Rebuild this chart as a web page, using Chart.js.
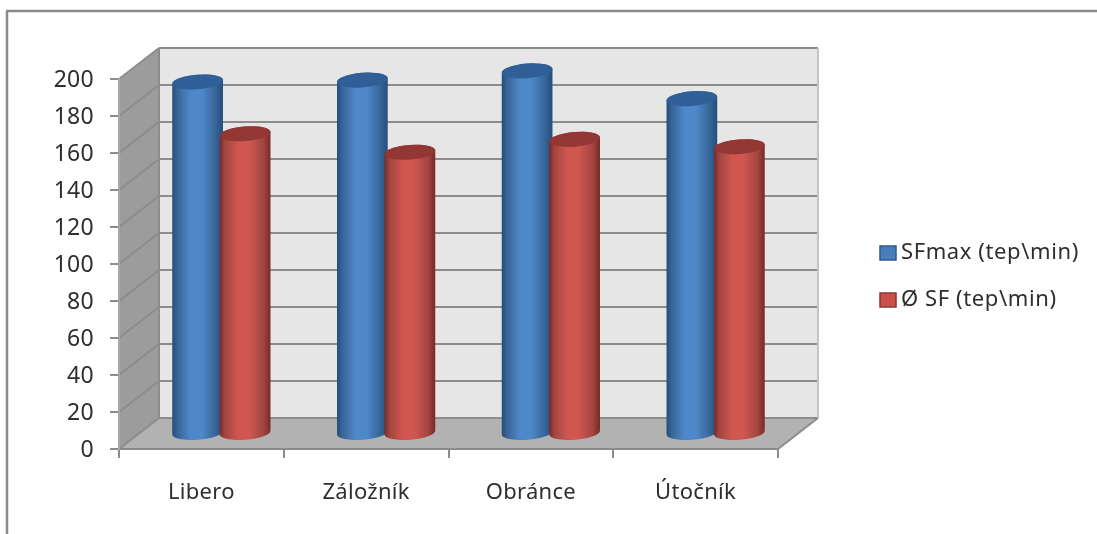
<!DOCTYPE html>
<html>
<head>
<meta charset="utf-8">
<title>SF</title>
<script src="https://cdn.jsdelivr.net/npm/chart.js@4"></script>
<style>
    html, body { margin: 0; padding: 0; background: #fff; }
    canvas { display: block; }
</style>
</head>
<body>
<canvas id="myChart" width="1097" height="534"></canvas>
<script>
"use strict";

// Data
const categories = ["Libero", "Záložník", "Obránce", "Útočník"];
const sfMax = [190, 191, 196, 181];
const sfAvg = [162, 152, 159, 155];
const seriesLabels = ["SFmax (tep\\min)", "Ø SF (tep\\min)"];
const yTicks = [0, 20, 40, 60, 80, 100, 120, 140, 160, 180, 200];

// Look of the 3D box and the cylinders
const DEPTH_X = 40;
const DEPTH_Y = -31;
const FONT = "'Noto Sans', sans-serif";
const TEXT = "#2e2e2e";
const LINE = "#8c8c8c";
const looks = [
    { edge: "#234c7a", side: "#376496", mid: "#4f88c9", top: "#2f5f96", swatch: "#4a7ebb", border: "#2c5a8e" },
    { edge: "#752a28", side: "#a24541", mid: "#cf5750", top: "#923733", swatch: "#c9504b", border: "#8e3431" },
];

function polygon(ctx, pts, fill) {
    ctx.beginPath();
    pts.forEach((p, i) => (i ? ctx.lineTo(p[0], p[1]) : ctx.moveTo(p[0], p[1])));
    ctx.closePath();
    ctx.fillStyle = fill;
    ctx.fill();
}

function line(ctx, x1, y1, x2, y2) {
    ctx.beginPath();
    ctx.moveTo(x1, y1);
    ctx.lineTo(x2, y2);
    ctx.stroke();
}

function drawBox(chart) {
    const { ctx, chartArea: a, scales } = chart;
    const l = a.left, r = a.right, t = a.top, b = a.bottom;
    const dx = DEPTH_X, dy = DEPTH_Y;

    ctx.save();

    // frame round the whole chart
    ctx.strokeStyle = "#8a8a8a";
    ctx.lineWidth = 2.5;
    line(ctx, 7, 534, 7, 11);
    line(ctx, 6, 11, 1097, 11);

    // walls and floor
    polygon(ctx, [[l + dx, t + dy], [r + dx, t + dy], [r + dx, b + dy], [l + dx, b + dy]], "#e6e6e6");
    polygon(ctx, [[l, t], [l + dx, t + dy], [l + dx, b + dy], [l, b]], "#9c9c9c");
    polygon(ctx, [[l, b], [l + dx, b + dy], [r + dx, b + dy], [r, b]], "#b2b2b2");

    // grid lines run along the side wall and the back wall
    ctx.strokeStyle = LINE;
    ctx.lineWidth = 2;
    yTicks.forEach((v) => {
        const y = scales.y.getPixelForValue(v);
        line(ctx, l, y, l + dx, y + dy);
        line(ctx, l + dx, y + dy, r + dx, y + dy);
    });
    line(ctx, l + dx, t + dy, l + dx, b + dy);
    ctx.strokeStyle = "#c4c4c4";
    line(ctx, r + dx, t + dy, r + dx, b + dy);
    ctx.strokeStyle = LINE;
    line(ctx, r, b, r + dx, b + dy);
    ctx.restore();
}

function drawCylinder(ctx, bar, look) {
    const rx = bar.width / 2;
    const ry = 7.3;
    const tilt = -0.08;
    const cx = bar.x + DEPTH_X / 2;
    const topY = bar.y + DEPTH_Y / 2;
    const baseY = bar.base + DEPTH_Y / 2;

    const shade = ctx.createLinearGradient(cx - rx, 0, cx + rx, 0);
    shade.addColorStop(0, look.edge);
    shade.addColorStop(0.1, look.side);
    shade.addColorStop(0.36, look.mid);
    shade.addColorStop(0.58, look.mid);
    shade.addColorStop(0.86, look.side);
    shade.addColorStop(1, look.edge);

    ctx.beginPath();
    ctx.ellipse(cx, topY, rx, ry, tilt, Math.PI, 0, false);
    ctx.ellipse(cx, baseY, rx, ry, tilt, 0, Math.PI, false);
    ctx.closePath();
    ctx.fillStyle = shade;
    ctx.fill();

    ctx.beginPath();
    ctx.ellipse(cx, topY, rx, ry, tilt, 0, Math.PI * 2);
    ctx.fillStyle = look.top;
    ctx.fill();
}

// Replaces the flat bars with cylinders, using the positions the bar elements got from the scales
const box3d = {
    id: "box3d",
    beforeDraw(chart) {
        chart.ctx.letterSpacing = "0.3px";
        drawBox(chart);
    },
    beforeDatasetsDraw(chart) {
        const ctx = chart.ctx;
        ctx.save();
        categories.forEach((c, i) => {
            chart.data.datasets.forEach((ds, d) => {
                drawCylinder(ctx, chart.getDatasetMeta(d).data[i], looks[d]);
            });
        });
        ctx.restore();
        return false;
    },
    afterDraw(chart) {
        const ctx = chart.ctx;
        const rows = [253, 300];
        ctx.save();
        ctx.font = "22px " + FONT;
        ctx.letterSpacing = "0.6px";
        ctx.textBaseline = "middle";
        chart.data.datasets.forEach((ds, d) => {
            ctx.fillStyle = looks[d].swatch;
            ctx.strokeStyle = looks[d].border;
            ctx.lineWidth = 1.5;
            ctx.fillRect(880, rows[d] - 7, 16, 14);
            ctx.strokeRect(880, rows[d] - 7, 16, 14);
            ctx.fillStyle = TEXT;
            ctx.fillText(ds.label, 901, rows[d]);
        });
        ctx.restore();
    },
};

// Config
const config = {
    type: "bar",
    data: {
        labels: categories,
        datasets: [
            { label: seriesLabels[0], data: sfMax, backgroundColor: looks[0].swatch },
            { label: seriesLabels[1], data: sfAvg, backgroundColor: looks[1].swatch },
        ],
    },
    options: {
        responsive: false,
        animation: false,
        categoryPercentage: 0.577,
        barPercentage: 1.07,
        layout: { padding: { top: 79, right: 319, left: 0, bottom: 0 } },
        plugins: {
            legend: { display: false },
            tooltip: { enabled: false },
        },
        scales: {
            x: {
                grid: { drawOnChartArea: false, color: LINE, lineWidth: 2, tickLength: 9 },
                border: { color: LINE, width: 2 },
                ticks: { color: TEXT, padding: 22, font: { family: FONT, size: 22 }, maxRotation: 0 },
                afterFit(scale) {
                    scale.height = 85;
                },
            },
            y: {
                min: 0,
                max: 200,
                grid: { drawOnChartArea: false, color: LINE, lineWidth: 2, tickLength: 9 },
                border: { color: "#a8a8a8", width: 2 },
                ticks: { color: TEXT, padding: 16, stepSize: 20, labelOffset: 1, font: { family: FONT, size: 23 } },
                afterFit(scale) {
                    scale.width = 119;
                },
            },
        },
    },
    plugins: [box3d],
};

const myChart = new Chart(document.getElementById("myChart"), config);
</script>
</body>
</html>
